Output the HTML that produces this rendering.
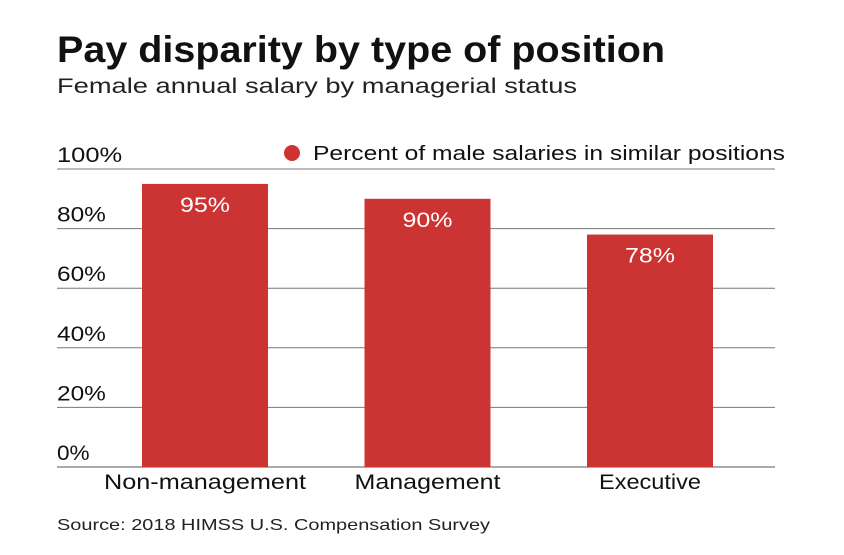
<!DOCTYPE html>
<html><head><meta charset="utf-8"><style>
body{margin:0;background:#fff;width:844px;height:550px;overflow:hidden;font-family:"Liberation Sans",sans-serif;}
</style></head><body>
<svg width="844" height="550" id="c">
<text x="57" y="62" font-size="37" font-weight="bold" fill="#111" textLength="608" lengthAdjust="spacingAndGlyphs">Pay disparity by type of position</text>
<text x="57" y="93" font-size="21" fill="#222" textLength="520" lengthAdjust="spacingAndGlyphs">Female annual salary by managerial status</text>
<g>
<circle cx="292" cy="153" r="8" fill="#cc3333"/>
<text x="313" y="160" font-size="20" fill="#111" textLength="472" lengthAdjust="spacingAndGlyphs">Percent of male salaries in similar positions</text>
</g>
<g id="grid"></g><g id="bars"></g>
<text x="57" y="530" font-size="16" fill="#222" textLength="433" lengthAdjust="spacingAndGlyphs">Source: 2018 HIMSS U.S. Compensation Survey</text>
</svg>
<script>
const categories=["Non-management","Management","Executive"];
const values=[95,90,78];
const ticks=[0,20,40,60,80,100];
const ns="http://www.w3.org/2000/svg";
const y=v=>467-v*2.98;
const bx=i=>142+i*222.5;
const catW=[202,146,102];
const g=document.getElementById('grid'),b=document.getElementById('bars');
function mk(t,a,p){const e=document.createElementNS(ns,t);for(const k in a)e.setAttribute(k,a[k]);p.appendChild(e);return e;}
ticks.forEach(t=>{
 const l=mk('line',{x1:57,x2:775,y1:y(t),y2:y(t),stroke:t===0?'#aaa':'#777','stroke-width':t===0?2:1},g);
 
 
 const s=String(t)+'%';
 const tx=mk('text',{x:57,y:y(t)-7,'font-size':21,fill:'#111',textLength:s.length*16.3,lengthAdjust:'spacingAndGlyphs'},g);
 tx.textContent=s;
 
 
});
categories.forEach((c,i)=>{
 const r=mk('rect',{x:bx(i),y:y(values[i]),width:126,height:y(0)-y(values[i]),fill:'#cc3333'},b);
 
 
 const v=mk('text',{x:bx(i)+63-25,y:y(values[i])+28,'font-size':21,fill:'#fff',textLength:50,lengthAdjust:'spacingAndGlyphs'},b);
 v.textContent=values[i]+'%';
 
 
 const w=catW[i]||c.length*13;
 const cl=mk('text',{x:bx(i)+63-w/2,y:489,'font-size':21,fill:'#111',textLength:w,lengthAdjust:'spacingAndGlyphs'},b);
 cl.textContent=c;
 
 
});
</script>
</body></html>
